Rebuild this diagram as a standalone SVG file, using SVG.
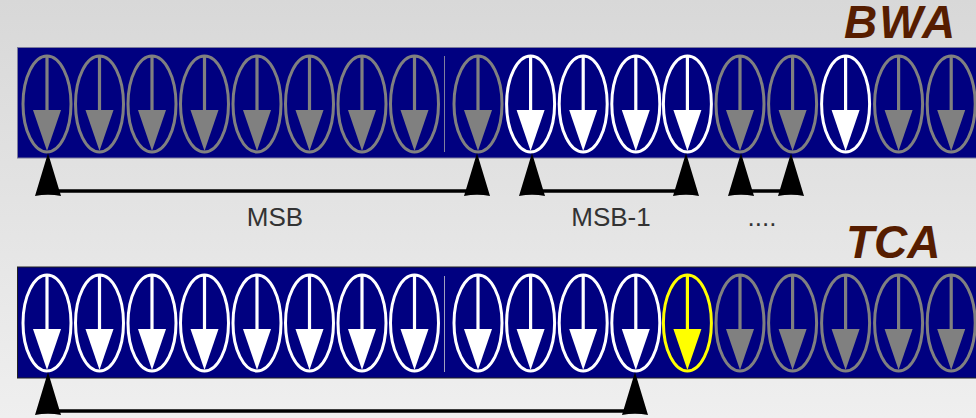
<svg xmlns="http://www.w3.org/2000/svg" xmlns:xlink="http://www.w3.org/1999/xlink" width="976" height="418" viewBox="0 0 976 418">
  <defs>
    <linearGradient id="bg" x1="0" y1="0" x2="0" y2="1">
      <stop offset="0" stop-color="#d8d8d8"/>
      <stop offset="1" stop-color="#efefef"/>
    </linearGradient>
    <!-- one bit: ellipse with a downward arrow, drawn in currentColor -->
    <g id="bit">
      <ellipse cx="0" cy="0" rx="24" ry="48" fill="none" stroke="currentColor" stroke-width="3"/>
      <line x1="0" y1="-48" x2="0" y2="8" stroke="currentColor" stroke-width="3.2"/>
      <path d="M-14,6 L14,6 L0,47 Z" fill="currentColor"/>
    </g>
    <!-- upward arrowhead of a bracket -->
    <path id="tip" d="M0,0 L-13,43 Q0,40.5 13,43 Z" fill="#000"/>
  </defs>
  <style>
    .grey { color: #808080; }
    .white { color: #ffffff; }
    .yellow { color: #ffff00; }
    .bar { fill: #000080; }
    .label { font-family: "Liberation Sans", Arial, sans-serif; font-size: 26px; fill: #333333; text-anchor: middle; }
    .title { font-family: "Liberation Sans", Arial, sans-serif; font-size: 46px; font-weight: bold; font-style: italic; fill: #561d00; }
    .bracket { stroke: #000; stroke-width: 3.4; fill: none; }
  </style>

  <rect width="976" height="418" fill="url(#bg)"/>

  <text class="title" x="844" y="38" font-size="47" letter-spacing="2">BWA</text>
  <text class="title" x="846" y="258">TCA</text>

  <!-- BWA register -->
  <g id="bwa">
    <rect class="bar" x="17.5" y="47.5" width="970" height="110.5" stroke="#7c7c9c" stroke-width="1"/>
    <line x1="444.5" y1="56" x2="444.5" y2="152" stroke="#7f7f9f" stroke-width="1"/>
    <use id="bwa0" xlink:href="#bit" class="grey" x="47" y="104"/>
    <use id="bwa1" xlink:href="#bit" class="grey" x="99.5" y="104"/>
    <use id="bwa2" xlink:href="#bit" class="grey" x="152" y="104"/>
    <use id="bwa3" xlink:href="#bit" class="grey" x="204.5" y="104"/>
    <use id="bwa4" xlink:href="#bit" class="grey" x="257" y="104"/>
    <use id="bwa5" xlink:href="#bit" class="grey" x="309.5" y="104"/>
    <use id="bwa6" xlink:href="#bit" class="grey" x="362" y="104"/>
    <use id="bwa7" xlink:href="#bit" class="grey" x="414.5" y="104"/>
    <use id="bwa8" xlink:href="#bit" class="grey" x="478" y="104"/>
    <use id="bwa9" xlink:href="#bit" class="white" x="530.6" y="104"/>
    <use id="bwa10" xlink:href="#bit" class="white" x="583.2" y="104"/>
    <use id="bwa11" xlink:href="#bit" class="white" x="635.8" y="104"/>
    <use id="bwa12" xlink:href="#bit" class="white" x="687.4" y="104"/>
    <use id="bwa13" xlink:href="#bit" class="grey" x="740" y="104"/>
    <use id="bwa14" xlink:href="#bit" class="grey" x="792.6" y="104"/>
    <use id="bwa15" xlink:href="#bit" class="white" x="845.6" y="104"/>
    <use id="bwa16" xlink:href="#bit" class="grey" x="898.6" y="104"/>
    <use id="bwa17" xlink:href="#bit" class="grey" x="951.2" y="104"/>
  </g>

  <!-- TCA register -->
  <g id="tca">
    <rect class="bar" x="17.5" y="267" width="970" height="111" stroke="#222" stroke-width="1"/>
    <line x1="444.5" y1="276" x2="444.5" y2="372" stroke="#9f9fbf" stroke-width="1"/>
    <use id="tca0" xlink:href="#bit" class="white" x="47" y="323"/>
    <use id="tca1" xlink:href="#bit" class="white" x="99.5" y="323"/>
    <use id="tca2" xlink:href="#bit" class="white" x="152" y="323"/>
    <use id="tca3" xlink:href="#bit" class="white" x="204.5" y="323"/>
    <use id="tca4" xlink:href="#bit" class="white" x="257" y="323"/>
    <use id="tca5" xlink:href="#bit" class="white" x="309.5" y="323"/>
    <use id="tca6" xlink:href="#bit" class="white" x="362" y="323"/>
    <use id="tca7" xlink:href="#bit" class="white" x="414.5" y="323"/>
    <use id="tca8" xlink:href="#bit" class="white" x="478" y="323"/>
    <use id="tca9" xlink:href="#bit" class="white" x="530.6" y="323"/>
    <use id="tca10" xlink:href="#bit" class="white" x="583.2" y="323"/>
    <use id="tca11" xlink:href="#bit" class="white" x="635.8" y="323"/>
    <use id="tca12" xlink:href="#bit" class="yellow" x="687.4" y="323"/>
    <use id="tca13" xlink:href="#bit" class="grey" x="740" y="323"/>
    <use id="tca14" xlink:href="#bit" class="grey" x="792.6" y="323"/>
    <use id="tca15" xlink:href="#bit" class="grey" x="845.6" y="323"/>
    <use id="tca16" xlink:href="#bit" class="grey" x="898.6" y="323"/>
    <use id="tca17" xlink:href="#bit" class="grey" x="951.2" y="323"/>
  </g>

  <!-- brackets grouping bits -->
  <g id="connectors">
    <path class="bracket" d="M49,191 H476"/>
    <use xlink:href="#tip" x="48" y="153"/>
    <use xlink:href="#tip" x="477" y="153"/>

    <path class="bracket" d="M533,191 H685"/>
    <use xlink:href="#tip" x="532" y="153"/>
    <use xlink:href="#tip" x="686" y="153"/>

    <path class="bracket" d="M742,191 H790"/>
    <use xlink:href="#tip" x="741" y="153"/>
    <use xlink:href="#tip" x="791" y="153"/>

    <path class="bracket" stroke-width="4" d="M49,411 H634"/>
    <use xlink:href="#tip" x="48" y="372"/>
    <use xlink:href="#tip" x="635" y="372"/>
  </g>

  <text class="label" x="275" y="226">MSB</text>
  <text class="label" x="611" y="226">MSB-1</text>
  <text class="label" x="762" y="226">....</text>
</svg>
